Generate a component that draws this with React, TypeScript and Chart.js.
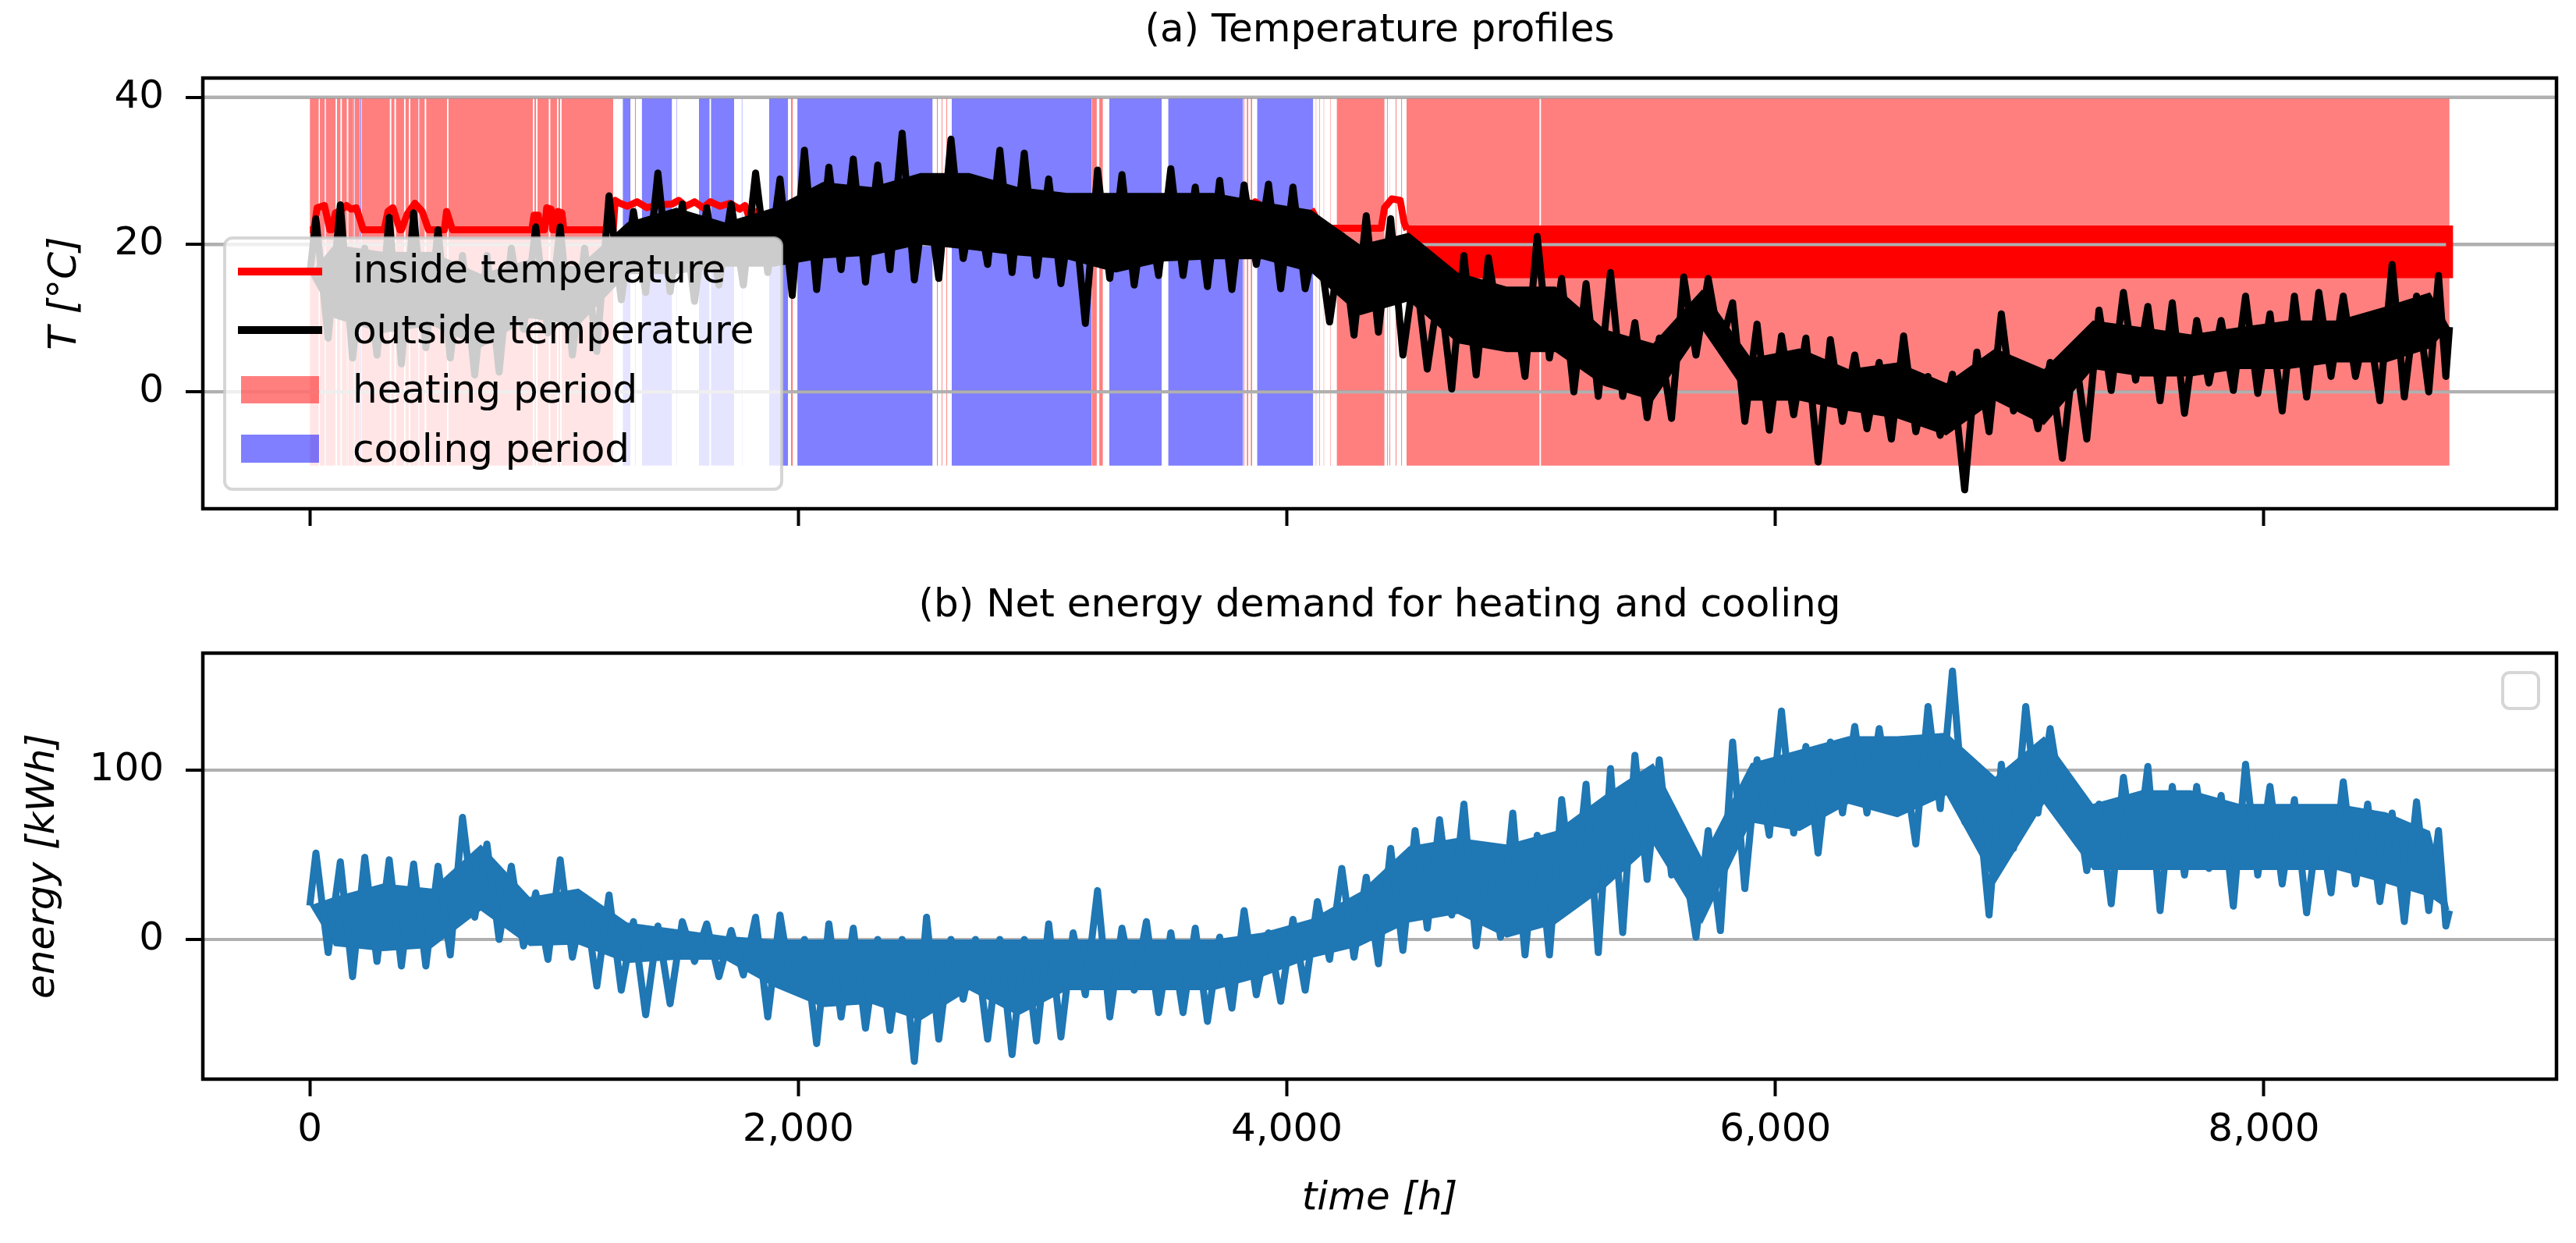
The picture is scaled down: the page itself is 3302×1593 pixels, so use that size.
import React, { useEffect, useRef } from "react";
import { Chart, registerables, ChartConfiguration, Plugin } from "chart.js";

Chart.register(...registerables);

Chart.defaults.font.family = "'DejaVu Sans', sans-serif";
Chart.defaults.font.size = 50;
Chart.defaults.color = "#000";

// hours of the year; spikes are read per 100 h bin, the dense core per 200 h bin
const HOURS = 8760;
const BIN = 100;
const CORE_BIN = 200;
const X_MIN = -438;
const X_MAX = 9198;

const xTicks = [0, 2000, 4000, 6000, 8000];
const tempTicks = [0, 20, 40];
const energyTicks = [0, 100];

// outside temperature, highest / lowest spike in each 100 h bin (°C)
const outsideHigh = [
  23.5, 25.4, 19.5, 23.7, 24.3, 22.0, 18.5, 18.5, 19.5, 22.4,
  22.4, 19.5, 26.6, 24.5, 29.7, 25.5, 25.0, 25.5, 29.7, 28.9,
  32.8, 30.5, 31.6, 30.8, 35.1, 28.1, 34.3, 27.0, 32.8, 32.4,
  28.9, 26.2, 30.1, 29.5, 26.2, 30.3, 27.8, 28.7, 28.1, 28.2,
  27.8, 21.6, 21.2, 23.9, 23.5, 17.0, 14.5, 18.5, 18.2, 13.5,
  21.1, 15.4, 14.7, 16.2, 9.4, 7.3, 15.6, 15.4, 12.1, 9.2,
  7.6, 7.3, 7.1, 5.0, 4.0, 7.6, 2.1, 2.4, 5.4, 10.6,
  3.1, 4.0, 5.9, 11.1, 13.5, 11.6, 12.1, 9.7, 9.7, 13.0,
  10.6, 13.0, 13.5, 13.0, 10.2, 17.3, 13.0, 15.8,
];
const outsideLow = [
  7.3, 4.6, 5.0, 3.8, 6.0, 4.6, 2.3, 2.7, 8.5, 8.0,
  5.0, 5.5, 12.5, 13.5, 13.6, 12.3, 14.5, 14.5, 16.2, 13.1,
  13.9, 16.6, 14.9, 16.6, 15.2, 15.4, 18.1, 17.3, 16.2, 15.8,
  14.7, 9.3, 15.4, 14.5, 15.8, 15.8, 14.3, 13.9, 17.3, 14.0,
  14.0, 9.5, 7.7, 8.1, 5.0, 3.1, 0.4, 2.3, 7.8, 2.1,
  4.6, 0.0, -0.6, -0.6, -3.5, -3.6, 5.0, 6.0, -4.0, -5.2,
  -3.1, -9.5, -4.0, -5.0, -6.4, -5.4, -5.9, -13.3, -5.4, -2.6,
  -5.0, -9.0, -6.4, 0.2, 1.6, -1.2, -2.9, 1.2, 0.2, -0.2,
  -2.6, -0.7, 2.1, 2.1, -1.2, -0.7, 0.0, 2.1,
];
// outside temperature, upper / lower edge of the dense daily swing per 200 h (°C)
const outsideCoreHigh = [
  20, 19, 19, 16, 18, 17, 23, 25, 23, 25,
  28.5, 27.8, 29.7, 29.7, 27.8, 27, 27, 27, 27, 25.8,
  24.7, 20, 21.6, 16.2, 14.3, 14.3, 8.5, 6.6, 13.9, 4.6,
  5.9, 3.1, 4.0, 1.2, 5.9, 3.1, 9.7, 8.8, 7.8, 8.8,
  9.7, 9.7, 11.6, 13.5,
];
const outsideCoreLow = [
  10, 8, 9, 6, 10, 9, 16, 16, 17, 17,
  18.1, 18.5, 20, 19.3, 18.5, 18, 16.2, 17.7, 18, 18,
  16.2, 10.4, 12.3, 6.6, 5.4, 5.4, 0.8, -1.2, 8.5, -1.2,
  -1.2, -2.6, -3.6, -5.9, -1.2, -4.5, 3.1, 2.1, 2.1, 3.1,
  3.1, 4.0, 4.0, 5.9,
];
const outsideFirst = 16;
const outsideLast = 8.8;

// net energy demand, highest / lowest spike in each 100 h bin (kWh)
const energyHigh = [
  51, 45.8, 48.4, 47, 44.5, 43.2, 72, 56.3, 43.2, 27.5,
  47, 24.9, 26.2, 10.5, 7.9, 10.5, 9.2, 5.3, 13.1, 14.4,
  0, 9.2, 6.6, 0, 0, 13.1, 0, 0, 0, 0,
  9.2, 3.9, 28.8, 6.6, 10.5, 3.9, 6.6, 1.3, 17, 3.9,
  11.8, 22.3, 41.9, 36.7, 53.7, 64.2, 70.7, 79.9, 48.4, 74.6,
  61.5, 82.5, 91.6, 100.8, 108.7, 106, 48.4, 64.2, 116.5, 106,
  134.8, 113.9, 116.5, 125.7, 124.4, 106, 137.5, 158.4, 90.3, 103.4,
  137.5, 124.4, 90.3, 79.9, 95.6, 102.1, 90.3, 90.3, 85, 103.4,
  90.3, 82.5, 72, 93, 79.9, 74.6, 81.2, 64.2,
];
const energyLow = [
  -7.8, -22, -13, -15.7, -15.7, -9.2, 13.1, 0, -3.9, -11.8,
  -10.5, -27.5, -30, -44.5, -38, -13, -22, -21, -45.8, -30,
  -61.5, -45.8, -52.4, -53.7, -72, -58.9, -35.3, -58.9, -68, -60,
  -57.6, -32.7, -45.8, -30, -43.2, -43.2, -48.4, -40.6, -32.7, -36.6,
  -30, -11.8, -10.5, -14.4, -6.5, 6.6, 14.4, -3.9, 1.3, -9.2,
  -9.2, 22.3, -7.8, 4, 35.4, 38, 1.3, 5.2, 30, 61.5,
  62.8, 51, 74.6, 74.6, 79.9, 56.3, 77.2, 69.4, 14.4, 53.7,
  74.6, 79.9, 40.6, 21, 43.2, 17, 38, 41.9, 19.6, 38,
  32.7, 15.7, 27.5, 32.7, 22.3, 10.5, 17, 7.9,
];
// net energy demand, upper / lower edge of the dense part per 200 h (kWh)
const energyCoreHigh = [
  25, 33, 30, 56, 25, 30, 10, 6, 2, 0,
  0, 0, 0, 0, 0, 0, 0, 0, 0, 4,
  12, 28, 55, 60, 56, 64, 85, 104, 48, 104,
  112, 120, 120, 122, 96, 120, 80, 88, 88, 80,
  80, 80, 75, 64,
];
const energyCoreLow = [
  -4, -7, -5, 17, -4, -3, -14, -12, -12, -28,
  -40, -38, -48, -30, -45, -30, -30, -30, -30, -22,
  -11, -4, 10, 15, 1, 9, 30, 56, 9, 69,
  64, 80, 72, 85, 33, 80, 41, 41, 41, 41,
  41, 41, 33, 25,
];
const energyFirst = 20;
const energyLast = 17;

// heating / cooling periods as [start h, end h]
const heatingPeriods: [number, number][] = [
  [0, 37], [41, 61], [66, 106], [111, 126], [131, 152], [157, 178], [183, 206],
  [212, 328], [333, 347], [352, 386], [391, 406], [411, 445], [450, 471], [476, 562],
  [567, 914], [919, 927], [932, 979], [984, 1012], [1017, 1025], [1030, 1242],
  [1252, 1254], [1331, 1335], [1970, 1978],
  [2567, 2571], [2587, 2590], [2606, 2610],
  [3201, 3222], [3232, 3247],
  [3821, 3826], [3836, 3842], [3852, 3858],
  [4118, 4121], [4133, 4136], [4150, 4153], [4178, 4181], [4204, 4400],
  [4420, 4423], [4445, 4449], [4468, 4472], [4490, 5035], [5040, 8760],
];
const coolingPeriods: [number, number][] = [
  [62, 65], [153, 156], [179, 182], [207, 211], [446, 449],
  [1281, 1313], [1359, 1483], [1500, 1503], [1593, 1637], [1642, 1737],
  [1768, 1771], [1880, 1958],
  [1996, 2550], [2628, 3201], [3273, 3488], [3514, 3820], [3878, 4108], [4410, 4413],
];
const shadeTop = 40;
const shadeBottom = -10;

// inside temperature [h, °C]; null where it is hidden behind the outside curve
const insideTemp: ([number, number] | null)[] = [
  [0, 22], [17, 22], [30, 25], [60, 25.3], [82, 22], [89, 22], [105, 24.3], [125, 24.6],
  [150, 25.3], [170, 24.8], [190, 25], [219, 22], [304, 22], [320, 24.5], [340, 25],
  [369, 22], [375, 22], [400, 24.2], [430, 25.6], [460, 24.5], [486, 22], [551, 22],
  [560, 24.5], [584, 22], [909, 22], [918, 24], [935, 24], [942, 22], [961, 22],
  [970, 25], [988, 24.8], [994, 22], [1007, 22], [1015, 24.5], [1032, 24.3], [1040, 22],
  [1242, 22], [1250, 26], [1270, 25.6], [1300, 25.2], [1340, 25.8], [1380, 25],
  [1430, 25.4], [1483, 25.5], [1510, 26], [1540, 25.2], [1575, 25.8], [1610, 25],
  [1640, 25.8], [1680, 25.2], [1720, 25.6], [1760, 24.8], [1782, 25.3], [1800, 23.5],
  [1830, 24.5], [1860, 22.8], [1900, 24], [1940, 25], [1975, 24], [2000, 23],
  null,
  [2549, 25], [2575, 22.8], [2600, 22.3], [2612, 23],
  null,
  [2815, 24], [2830, 26.4], [2860, 26.2], [2870, 24],
  null,
  [3201, 20.8], [3215, 22.6], [3235, 25.5], [3260, 26.2], [3273, 25],
  null,
  [3470, 25.5], [3514, 26.2], [3530, 25.8],
  null,
  [3818, 22.4], [3840, 24.5], [3870, 25.8], [3885, 25.5],
  null,
  [4100, 24.8], [4130, 23], [4160, 22.2], [4386, 22.2], [4400, 25], [4430, 26.2],
  [4464, 26], [4480, 23], [4492, 22],
];
// winter: inside temperature swings between set-back and set-point every day
const insideBandStart = 4492;
const insideBandEnd = 8760;
const insideBandHigh = 22.1;
const insideBandLow = 15.9;

const GRID = "#b0b0b0";
const HEAT = "rgba(255, 0, 0, 0.5)";
const COOL = "rgba(0, 0, 255, 0.5)";
const BLUE = "#1f77b4";
const LINE_W = 9;

type Pt = { x: number; y: number | null };

// hourly trace drawn as up/down strokes between the bin spikes
function zigzag(high: number[], low: number[], first: number, last: number): Pt[] {
  const pts: Pt[] = [{ x: 0, y: first }];
  high.forEach((h, i) => {
    const t = i * BIN;
    const w = Math.min(BIN, HOURS - t);
    pts.push({ x: t + w * 0.25, y: h }, { x: t + w * 0.75, y: low[i] });
  });
  pts.push({ x: HOURS, y: last });
  return pts;
}

// closed outline of the dense daily swing
function core(high: number[], low: number[], first: number, last: number): Pt[] {
  const top: Pt[] = [{ x: 0, y: first }];
  const bottom: Pt[] = [];
  high.forEach((h, i) => {
    const t = i * CORE_BIN;
    const mid = t + Math.min(CORE_BIN, HOURS - t) / 2;
    top.push({ x: mid, y: h });
    bottom.push({ x: mid, y: low[i] });
  });
  top.push({ x: HOURS, y: last });
  return top.concat(bottom.reverse());
}

function spans(periods: [number, number][]): Pt[] {
  const pts: Pt[] = [];
  periods.forEach(([a, b]) => {
    pts.push({ x: a, y: shadeTop }, { x: b, y: shadeTop }, { x: b, y: null });
  });
  return pts;
}

function fmt(v: number): string {
  return String(v).replace(/\B(?=(\d{3})+(?!\d))/g, ",");
}

function xAxis(showLabels: boolean, boxHeight: number, title?: string): any {
  return {
    type: "linear",
    min: X_MIN,
    max: X_MAX,
    afterBuildTicks: (s: any) => {
      s.ticks = xTicks.map((v) => ({ value: v }));
    },
    afterFit: (s: any) => {
      s.height = boxHeight;
    },
    ticks: {
      display: showLabels,
      padding: 14,
      maxRotation: 0,
      autoSkip: false,
      callback: (v: any) => fmt(Number(v)),
    },
    grid: {
      drawOnChartArea: false,
      drawTicks: true,
      tickLength: 22,
      tickColor: "#000",
      tickWidth: 4,
    },
    border: { display: false },
    title: title
      ? { display: true, text: title, font: { style: "italic" }, padding: 0 }
      : { display: false },
  };
}

function yAxis(min: number, max: number, ticks: number[], width: number, title: string): any {
  return {
    type: "linear",
    min,
    max,
    afterBuildTicks: (s: any) => {
      s.ticks = ticks.map((v) => ({ value: v }));
    },
    afterFit: (s: any) => {
      s.width = width;
    },
    ticks: { padding: 28, autoSkip: false },
    grid: {
      color: GRID,
      lineWidth: 4,
      drawTicks: true,
      tickLength: 22,
      tickColor: "#000",
      tickWidth: 4,
    },
    border: { display: false },
    title: { display: true, text: title, font: { style: "italic" }, padding: 0 },
  };
}

const frame: Plugin = {
  id: "frame",
  afterDraw(chart) {
    const { left, top, right, bottom } = chart.chartArea;
    const ctx = chart.ctx;
    ctx.save();
    ctx.strokeStyle = "#000";
    ctx.lineWidth = 4.5;
    ctx.strokeRect(left, top, right - left, bottom - top);
    ctx.restore();
  },
};

// matplotlib paints the grid over the translucent shading
const gridOverShading: Plugin = {
  id: "gridOverShading",
  beforeDatasetDraw(chart, args) {
    if (args.index !== 2) return;
    const y = chart.scales.y;
    const { left, right } = chart.chartArea;
    const ctx = chart.ctx;
    ctx.save();
    ctx.strokeStyle = GRID;
    ctx.lineWidth = 4;
    tempTicks.forEach((v) => {
      const p = y.getPixelForValue(v);
      ctx.beginPath();
      ctx.moveTo(left, p);
      ctx.lineTo(right, p);
      ctx.stroke();
    });
    ctx.restore();
  },
};

function roundRect(ctx: CanvasRenderingContext2D, x: number, y: number, w: number, h: number, r: number) {
  ctx.beginPath();
  ctx.moveTo(x + r, y);
  ctx.arcTo(x + w, y, x + w, y + h, r);
  ctx.arcTo(x + w, y + h, x, y + h, r);
  ctx.arcTo(x, y + h, x, y, r);
  ctx.arcTo(x, y, x + w, y, r);
  ctx.closePath();
}

const tempLegend: Plugin = {
  id: "tempLegend",
  afterDatasetsDraw(chart) {
    const ctx = chart.ctx;
    ctx.save();
    roundRect(ctx, 288, 305, 714, 322, 10);
    ctx.fillStyle = "rgba(255,255,255,0.8)";
    ctx.fill();
    ctx.strokeStyle = "rgba(204,204,204,0.8)";
    ctx.lineWidth = 4;
    ctx.stroke();

    ctx.lineWidth = 10;
    ctx.lineCap = "butt";
    [["#ff0000", 348], ["#000000", 423]].forEach(([c, y]) => {
      ctx.strokeStyle = c as string;
      ctx.beginPath();
      ctx.moveTo(305, y as number);
      ctx.lineTo(413, y as number);
      ctx.stroke();
    });
    ctx.fillStyle = HEAT;
    ctx.fillRect(309, 482, 100, 35);
    ctx.fillStyle = COOL;
    ctx.fillRect(309, 557, 100, 36);

    ctx.fillStyle = "#000";
    ctx.font = "50px 'DejaVu Sans', sans-serif";
    ctx.textBaseline = "alphabetic";
    const labels = ["inside temperature", "outside temperature", "heating period", "cooling period"];
    const base = [362, 440, 516, 592];
    labels.forEach((t, i) => ctx.fillText(t, 452, base[i]));
    ctx.restore();
  },
};

const emptyLegend: Plugin = {
  id: "emptyLegend",
  afterDatasetsDraw(chart) {
    const ctx = chart.ctx;
    ctx.save();
    roundRect(ctx, 3208, 142, 46, 46, 9);
    ctx.fillStyle = "rgba(255,255,255,0.8)";
    ctx.fill();
    ctx.strokeStyle = "rgba(204,204,204,0.8)";
    ctx.lineWidth = 4;
    ctx.stroke();
    ctx.restore();
  },
};

function tempConfig(): ChartConfiguration<"line"> {
  return {
    type: "line",
    data: {
      datasets: [
        {
          label: "heating period",
          data: spans(heatingPeriods) as any,
          borderWidth: 0,
          backgroundColor: HEAT,
          fill: { value: shadeBottom },
          pointRadius: 0,
          order: 6,
        },
        {
          label: "cooling period",
          data: spans(coolingPeriods) as any,
          borderWidth: 0,
          backgroundColor: COOL,
          fill: { value: shadeBottom },
          pointRadius: 0,
          order: 5,
        },
        {
          label: "inside band",
          data: [
            { x: insideBandStart, y: insideBandHigh },
            { x: insideBandEnd, y: insideBandHigh },
            { x: insideBandEnd, y: insideBandLow },
            { x: insideBandStart, y: insideBandLow },
          ],
          borderColor: "#ff0000",
          backgroundColor: "#ff0000",
          borderWidth: LINE_W,
          fill: "shape",
          pointRadius: 0,
          order: 4,
        },
        {
          label: "inside temperature",
          data: insideTemp.map((p) => (p ? { x: p[0], y: p[1] } : { x: NaN, y: null })) as any,
          borderColor: "#ff0000",
          borderWidth: LINE_W,
          borderJoinStyle: "round",
          fill: false,
          pointRadius: 0,
          spanGaps: false,
          order: 3,
        },
        {
          label: "outside core",
          data: core(outsideCoreHigh, outsideCoreLow, outsideFirst, outsideLast) as any,
          borderWidth: 0,
          backgroundColor: "#000000",
          fill: "shape",
          pointRadius: 0,
          order: 2,
        },
        {
          label: "outside temperature",
          data: zigzag(outsideHigh, outsideLow, outsideFirst, outsideLast) as any,
          borderColor: "#000000",
          borderWidth: LINE_W,
          borderJoinStyle: "round",
          fill: false,
          pointRadius: 0,
          order: 1,
        },
      ],
    },
    options: {
      animation: false,
      responsive: false,
      devicePixelRatio: 1,
      events: [],
      layout: { padding: { left: 54, right: 25, top: 0, bottom: 0 }, autoPadding: false },
      plugins: {
        legend: { display: false },
        tooltip: { enabled: false },
        title: {
          display: true,
          text: "(a) Temperature profiles",
          fullSize: false,
          font: { size: 50, weight: "normal", lineHeight: 1.2 },
          padding: { top: 10, bottom: 30 },
        },
      },
      scales: {
        x: xAxis(false, 68),
        y: yAxis(-15.86, 42.6, tempTicks, 206, "T [°C]"),
      },
    },
    plugins: [gridOverShading, tempLegend, frame],
  };
}

function energyConfig(): ChartConfiguration<"line"> {
  return {
    type: "line",
    data: {
      datasets: [
        {
          label: "energy core",
          data: core(energyCoreHigh, energyCoreLow, energyFirst, energyLast) as any,
          borderWidth: 0,
          backgroundColor: BLUE,
          fill: "shape",
          pointRadius: 0,
          order: 2,
        },
        {
          label: "energy",
          data: zigzag(energyHigh, energyLow, energyFirst, energyLast) as any,
          borderColor: BLUE,
          borderWidth: LINE_W,
          borderJoinStyle: "round",
          fill: false,
          pointRadius: 0,
          order: 1,
        },
      ],
    },
    options: {
      animation: false,
      responsive: false,
      devicePixelRatio: 1,
      events: [],
      layout: { padding: { left: 26, right: 25, top: 0, bottom: 26 }, autoPadding: false },
      plugins: {
        legend: { display: false },
        tooltip: { enabled: false },
        title: {
          display: true,
          text: "(b) Net energy demand for heating and cooling",
          fullSize: false,
          font: { size: 50, weight: "normal", lineHeight: 1.2 },
          padding: { top: 27, bottom: 30 },
        },
      },
      scales: {
        x: xAxis(true, 184, "time [h]"),
        y: yAxis(-82.5, 169, energyTicks, 234, "energy [kWh]"),
      },
    },
    plugins: [emptyLegend, frame],
  };
}

function ChartCanvas({ make, top, height }: { make: () => ChartConfiguration<"line">; top: number; height: number }) {
  const ref = useRef<HTMLCanvasElement | null>(null);

  useEffect(() => {
    if (!ref.current) return;
    const chart = new Chart(ref.current, make());
    return () => {
      chart.destroy();
    };
  }, [make]);

  return (
    <canvas
      ref={ref}
      width={3302}
      height={height}
      style={{ position: "absolute", left: 0, top, width: 3302, height, display: "block" }}
    />
  );
}

export default function App() {
  return (
    <div style={{ position: "absolute", left: 0, top: 0, width: 3302, height: 1593, background: "#fff" }}>
      <ChartCanvas make={tempConfig} top={0} height={720} />
      <ChartCanvas make={energyConfig} top={720} height={873} />
    </div>
  );
}
